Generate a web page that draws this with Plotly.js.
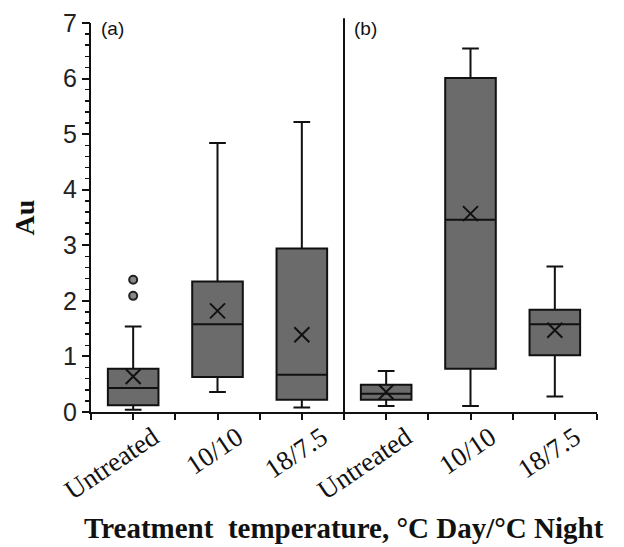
<!DOCTYPE html>
<html>
<head>
<meta charset="utf-8">
<script src="https://cdn.plot.ly/plotly-3.0.1.min.js"></script>
<style>html,body{margin:0;padding:0;background:#fff;}#chart{width:624px;height:547px;}</style>
</head>
<body>
<div id="chart"></div>
<script>
// Categories (panel a: 0-2, panel b: 3-5)
const categories = ["Untreated", "10/10", "18/7.5", "Untreated", "10/10", "18/7.5"];
const positions = [0, 1, 2, 3, 4, 5];
// Box statistics (Au)
const lowerWhisker = [0.04, 0.36, 0.08, 0.11, 0.11, 0.28];
const q1Values     = [0.12, 0.63, 0.22, 0.22, 0.78, 1.02];
const medians      = [0.43, 1.58, 0.67, 0.33, 3.46, 1.58];
const q3Values     = [0.78, 2.35, 2.94, 0.49, 6.01, 1.84];
const upperWhisker = [1.54, 4.84, 5.22, 0.74, 6.54, 2.62];
const means        = [0.64, 1.82, 1.39, 0.36, 3.57, 1.47];
// Outliers
const outlierPos    = [0, 0];
const outlierValues = [2.38, 2.09];
const panelLabels = ["(a)", "(b)"];
const xTitle = "Treatment  temperature, °C Day/°C Night";
const yTitle = "Au";

const tickVals = [], tickText = [];
for (let v = -0.5; v <= 5.51; v += 0.5) {
  tickVals.push(v);
  const idx = positions.indexOf(v);
  tickText.push(idx >= 0 ? categories[idx] : "");
}

const traces = [
  {
    type: "box",
    x: positions,
    q1: q1Values, median: medians, q3: q3Values,
    lowerfence: lowerWhisker, upperfence: upperWhisker,
    width: 0.6, whiskerwidth: 0.33,
    fillcolor: "#6b6b6b",
    line: {color: "#111", width: 2},
    boxpoints: false, hoverinfo: "skip", showlegend: false
  },
  {
    type: "scatter", mode: "markers",
    x: positions, y: means,
    marker: {symbol: "x-thin-open", size: 15, line: {color: "#111", width: 2}, color: "#111"},
    showlegend: false, hoverinfo: "skip", cliponaxis: false
  },
  {
    type: "scatter", mode: "markers",
    x: outlierPos, y: outlierValues,
    marker: {symbol: "circle", size: 8, color: "#888", line: {color: "#222", width: 2}},
    showlegend: false, hoverinfo: "skip"
  },
  {
    // invisible carrier so the minor-tick overlay axis is drawn
    type: "scatter", mode: "markers", x: [positions[0]], y: [medians[0]], yaxis: "y2",
    marker: {opacity: 0}, showlegend: false, hoverinfo: "skip"
  }
];

const layout = {
  width: 624, height: 547,
  margin: {l: 91, r: 27, t: 23, b: 135},
  paper_bgcolor: "#fff", plot_bgcolor: "#fff",
  showlegend: false,
  xaxis: {
    range: [-0.5, 5.5],
    tickmode: "array", tickvals: tickVals, ticktext: tickText,
    tickangle: -34,
    ticks: "outside", ticklen: 6, tickwidth: 2, tickcolor: "#111",
    showline: true, linecolor: "#111", linewidth: 2,
    showgrid: false, zeroline: false,
    ticklabelshift: 20, ticklabelstandoff: -9,
    tickfont: {family: "Liberation Serif", size: 27, color: "#111"}
  },
  yaxis: {
    range: [0, 7], dtick: 1,
    ticks: "outside", ticklen: 7, tickwidth: 2, tickcolor: "#111",
    showline: true, linecolor: "#111", linewidth: 2,
    showgrid: false, zeroline: false,
    tickfont: {family: "Liberation Sans", size: 25, color: "#222"},
    title: {text: "<b>" + yTitle + "</b>", font: {family: "Liberation Serif", size: 28, color: "#111"}, standoff: 20}
  },
  yaxis2: {
    range: [0, 7], dtick: 0.2, tick0: 0, overlaying: "y", side: "left", anchor: "x",
    ticks: "outside", ticklen: 5, tickwidth: 1.5, tickcolor: "#111",
    showticklabels: false, showline: false, showgrid: false, zeroline: false
  },
  shapes: [
    {type: "line", xref: "x", yref: "paper", x0: 2.5, x1: 2.5, y0: -0.01, y1: 1.012,
     line: {color: "#111", width: 2}}
  ],
  annotations: [
    {text: panelLabels[0], xref: "x", yref: "paper", x: -0.4, y: 0.985, xanchor: "left", yanchor: "middle",
     showarrow: false, font: {family: "Liberation Sans", size: 19, color: "#111"}},
    {text: panelLabels[1], xref: "x", yref: "paper", x: 2.6, y: 0.985, xanchor: "left", yanchor: "middle",
     showarrow: false, font: {family: "Liberation Sans", size: 19, color: "#111"}},
    {text: "<b>" + xTitle + "</b>", xref: "paper", yref: "paper", x: 0.5, y: -0.297, xanchor: "center", yanchor: "middle",
     showarrow: false, font: {family: "Liberation Serif", size: 29, color: "#111"}}
  ]
};

Plotly.newPlot("chart", traces, layout, {displayModeBar: false, staticPlot: true});
</script>
</body>
</html>
